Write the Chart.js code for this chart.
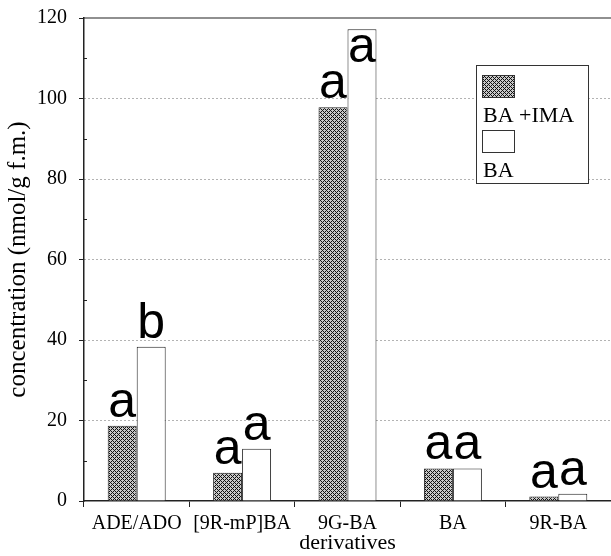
<!DOCTYPE html>
<html>
<head>
<meta charset="utf-8">
<script src="https://cdn.jsdelivr.net/npm/chart.js@4"></script>
<style>
  html, body { margin: 0; padding: 0; background: #fff; }
  #wrap { width: 611px; height: 556px; }
</style>
</head>
<body>
<div id="wrap"><canvas id="grafico" width="611" height="556"></canvas></div>
<script>
// datos del gráfico
const categorias = ["ADE/ADO", "[9R-mP]BA", "9G-BA", "BA", "9R-BA"];
const serieIMA = [18.7, 7.0, 97.8, 8.1, 1.1];   // BA +IMA
const serieBA = [38.3, 13.0, 117.2, 8.1, 1.8];  // BA
const letrasIMA = ["a", "a", "a", "a", "a"];
const letrasBA = ["b", "a", "a", "a", "a"];
const ticksY = [0, 20, 40, 60, 80, 100, 120];
const ticksMenores = [10, 30, 50, 70, 90, 110];

const serif = "'Liberation Serif', 'DejaVu Serif', serif";

// trama cruzada para la serie BA +IMA
function crearTrama() {
  const c = document.createElement("canvas");
  c.width = 4;
  c.height = 4;
  const g = c.getContext("2d");
  g.fillStyle = "#c8c8c8";
  g.fillRect(0, 0, 4, 4);
  g.fillStyle = "#111";
  for (let x = 0; x < 4; x++) {
    for (let y = 0; y < 4; y++) {
      if ((x + y) % 4 === 0 || (x - y + 4) % 4 === 0) g.fillRect(x, y, 1, 1);
    }
  }
  return g.createPattern(c, "repeat");
}
const trama = crearTrama();

// letras encima de las barras + leyenda + borde superior
const extras = {
  id: "extras",
  afterDatasetsDraw(chart) {
    const ctx = chart.ctx;
    const area = chart.chartArea;
    ctx.save();
    ctx.strokeStyle = "#222";
    ctx.lineWidth = 1.2;
    ctx.beginPath();
    ctx.moveTo(area.left, area.top);
    ctx.lineTo(area.right, area.top);
    ctx.stroke();

    // marcas menores del eje y
    const ys = chart.scales.y;
    ctx.lineWidth = 1;
    ticksMenores.forEach((v) => {
      const py = Math.round(ys.getPixelForValue(v)) + 0.5;
      ctx.beginPath();
      ctx.moveTo(area.left, py);
      ctx.lineTo(area.left + 3, py);
      ctx.stroke();
    });

    ctx.fillStyle = "#000";
    ctx.font = "50px 'Liberation Sans', Arial, sans-serif";
    ctx.textAlign = "center";
    ctx.textBaseline = "alphabetic";
    [letrasIMA, letrasBA].forEach((letras, d) => {
      chart.getDatasetMeta(d).data.forEach((bar, i) => {
        const y = Math.max(bar.y - 9, area.top + 44);
        ctx.fillText(letras[i], bar.x, y);
      });
    });

    // leyenda (cuadro arriba, texto abajo)
    const lx = 476, ly = 65, lw = 112, lh = 118;
    ctx.fillStyle = "#fff";
    ctx.fillRect(lx, ly, lw, lh);
    ctx.strokeStyle = "#333";
    ctx.lineWidth = 1;
    ctx.strokeRect(lx + 0.5, ly + 0.5, lw, lh);
    ctx.font = "22px " + serif;
    ctx.textAlign = "left";
    chart.data.datasets.forEach((ds, d) => {
      const sy = ly + 10 + d * 55;
      ctx.fillStyle = ds.backgroundColor;
      ctx.fillRect(lx + 6, sy, 32, 22);
      ctx.strokeStyle = "#333";
      ctx.strokeRect(lx + 6.5, sy + 0.5, 32, 22);
      ctx.fillStyle = "#000";
      ctx.fillText(ds.label, lx + 7, sy + 47);
    });
    ctx.restore();
  }
};

new Chart(document.getElementById("grafico").getContext("2d"), {
  type: "bar",
  data: {
    labels: categorias,
    datasets: [
      {
        label: "BA +IMA",
        data: serieIMA,
        backgroundColor: trama,
        borderColor: "#222",
        borderWidth: 1,
        categoryPercentage: 0.55,
        barPercentage: 1
      },
      {
        label: "BA",
        data: serieBA,
        backgroundColor: "#fff",
        borderColor: "#222",
        borderWidth: 1,
        categoryPercentage: 0.55,
        barPercentage: 1
      }
    ]
  },
  options: {
    responsive: false,
    animation: false,
    layout: { padding: { top: 18, right: 0, left: 0, bottom: 0 } },
    plugins: {
      legend: { display: false },
      tooltip: { enabled: false }
    },
    scales: {
      x: {
        grid: {
          offset: true,
          drawOnChartArea: false,
          tickLength: 6,
          tickColor: "#222"
        },
        border: { color: "#222", width: 1.5 },
        ticks: {
          color: "#000",
          font: { family: serif, size: 20 },
          padding: 5,
          maxRotation: 0
        },
        title: {
          display: true,
          text: "derivatives",
          color: "#000",
          font: { family: serif, size: 22 },
          padding: { top: 0, bottom: 0 }
        },
        afterFit(scale) { scale.height = 55; }
      },
      y: {
        min: 0,
        max: 120,
        afterBuildTicks(scale) {
          scale.ticks = ticksY.map((v) => ({ value: v }));
        },
        grid: {
          color: (c) => (c.tick && (c.tick.value === 0 || c.tick.value === 120)) ? "rgba(0,0,0,0)" : "#666",
          tickColor: "#222",
          tickLength: 5,
          lineWidth: 1
        },
        border: { color: "#222", width: 1.5, dash: [1, 3] },
        ticks: {
          color: "#000",
          font: { family: serif, size: 20 },
          padding: 12
        },
        title: {
          display: true,
          text: "concentration (nmol/g f.m.)",
          color: "#000",
          font: { family: serif, size: 25 },
          padding: { top: 3, bottom: 0 }
        },
        afterFit(scale) {
          scale.width = 84;
          scale.paddingTop = 0;
          scale.paddingBottom = 0;
        }
      }
    }
  },
  plugins: [extras]
});
</script>
</body>
</html>
